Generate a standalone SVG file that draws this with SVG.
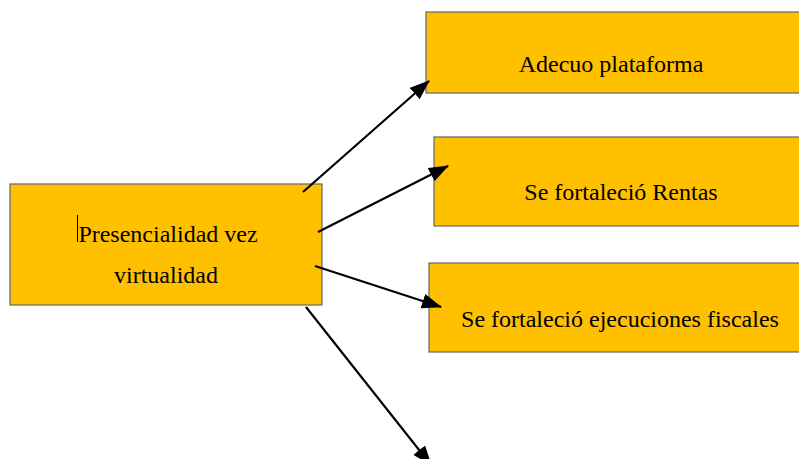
<svg xmlns="http://www.w3.org/2000/svg" width="799" height="459" viewBox="0 0 799 459">
<defs>
<style>
.box{fill:#FFC000;stroke:#666;stroke-width:1.2}
.t{font-family:"Liberation Serif","Times New Roman",serif;font-size:24px;fill:#000;text-anchor:middle}
.c{stroke:#000;stroke-width:2.2;fill:none;marker-end:url(#ah)}
</style>
<marker id="ah" viewBox="0 0 20 15" refX="19" refY="7.5" markerWidth="20" markerHeight="15" markerUnits="userSpaceOnUse" orient="auto">
<path d="M0,0 L20,7.5 L0,15 z" fill="#000"/>
</marker>
</defs>
<rect width="799" height="459" fill="#fff"/>
<g id="node-main">
<rect class="box" x="10" y="184" width="312" height="121"/>
<line x1="77.5" y1="215" x2="77.5" y2="242" stroke="#000" stroke-width="1"/>
<text class="t" x="168" y="242">Presencialidad vez</text>
<text class="t" x="166" y="283">virtualidad</text>
</g>
<g id="node-adecuo">
<rect class="box" x="426" y="12" width="374" height="81"/>
<text class="t" x="611" y="72">Adecuo plataforma</text>
</g>
<g id="node-rentas">
<rect class="box" x="434" y="137" width="366" height="89"/>
<text class="t" x="621" y="200">Se fortaleció Rentas</text>
</g>
<g id="node-ejecuciones">
<rect class="box" x="429" y="263" width="371" height="89"/>
<text class="t" x="620" y="327">Se fortaleció ejecuciones fiscales</text>
</g>
<g id="connectors">
<line class="c" x1="303" y1="192" x2="429" y2="81"/>
<line class="c" x1="318" y1="232" x2="448" y2="166"/>
<line class="c" x1="315" y1="266" x2="441" y2="307"/>
<line class="c" x1="306" y1="307" x2="431" y2="465"/>
</g>
</svg>
